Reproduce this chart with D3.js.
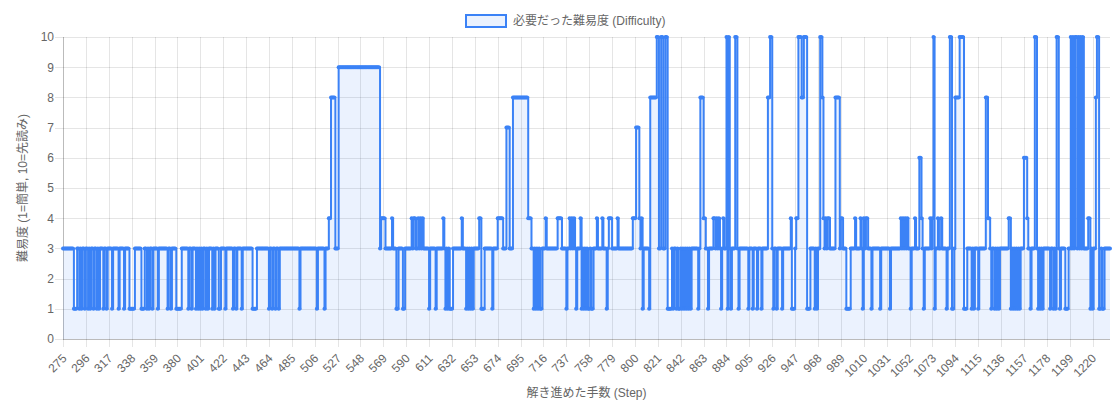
<!DOCTYPE html>
<html>
<head>
<meta charset="utf-8">
<title>必要だった難易度 (Difficulty)</title>
<script src="https://d3js.org/d3.v7.min.js"></script>
<style>
  body { margin: 0; background: #fff; }
  text { font-family: "Liberation Sans", Arial, "Noto Sans CJK JP", sans-serif; }
</style>
</head>
<body>
<script>
  // steps shown on the x axis (one category per step)
  var firstStep = 275
  var lastStep = 1236

  // difficulty: [step where the level starts, level]
  // each level holds until the next entry
  var levelRuns = [
    [275,3],[285,1],[288,3],[290,1],[291,3],[292,1],[293,3],[295,1],[296,3],[298,1],[299,3],[300,1],[301,3],[303,1],[304,3],[306,1],[307,3],[308,1],[309,3],[312,1],[313,3],[315,1],[316,3],[320,1],[321,3],[326,1],[327,3],[331,1],[332,3],[336,1],[341,3],[347,1],[350,3],[352,1],[353,3],[354,1],[355,3],[357,1],[358,3],[362,1],[363,3],
    [371,1],[372,3],[374,1],[375,3],[379,1],[384,3],[390,1],[391,3],[393,1],[394,3],[397,1],[398,3],[399,1],[400,3],[401,1],[402,3],[403,1],[404,3],[406,1],[407,3],[408,1],[409,3],[412,1],[413,3],[414,1],[415,3],[418,1],[420,3],[424,1],[425,3],[431,1],[432,3],[434,1],[435,3],[439,1],[440,3],[449,1],[453,3],[464,1],[465,3],[467,1],[468,3],[470,1],[471,3],[473,1],[474,3],[492,1],[493,3],[508,1],[509,3],
    [515,1],[516,3],[519,4],[521,8],[525,3],[528,9],[566,3],[567,4],[571,3],[577,4],[578,3],[581,1],[583,3],[587,1],[589,3],[595,4],[596,3],[597,4],[599,3],[601,4],[602,3],[603,4],[604,3],[605,4],[606,3],[611,1],[612,3],[617,1],[618,3],[624,4],[625,3],[626,1],[627,3],[628,1],[629,3],[630,1],[633,3],[641,4],[642,3],[645,1],[646,3],[647,1],[648,3],[649,1],[650,3],[651,1],[652,3],
    [657,4],[659,1],[662,3],[669,1],[670,3],[674,4],[679,3],[682,7],[685,3],[688,8],[702,4],[705,3],[707,1],[708,3],[709,1],[710,3],[711,1],[712,3],[713,1],[715,3],[718,4],[719,3],[729,4],[733,3],[737,1],[738,3],[740,4],[741,3],[742,4],[743,3],[744,4],[745,3],[746,1],[747,3],[750,4],[751,1],[752,3],[753,1],[754,3],[755,1],[756,3],[757,1],[759,3],[760,1],[762,3],[765,4],[766,3],[770,4],[771,3],[774,1],[775,3],[776,4],[779,3],[784,4],[785,3],[798,4],
    [801,7],[804,4],[805,3],[806,4],[807,1],[808,3],[813,1],[814,8],[820,10],[822,3],[824,10],[826,3],[828,10],[830,1],[834,3],[835,1],[836,3],[838,1],[839,3],[840,1],[842,3],[843,1],[844,3],[845,1],[846,3],[847,1],[848,3],[849,1],[850,3],[851,1],[852,3],[858,1],[859,3],[860,8],[863,4],[865,3],[867,1],[868,3],[872,4],[874,3],[875,4],[876,3],[877,4],[878,3],[879,1],[880,3],[881,4],[882,3],[884,10],[885,1],[886,10],[887,3],[888,1],[889,3],[892,10],[894,3],[895,1],[896,3],[904,1],[905,3],[908,1],[909,3],[912,1],[913,3],[916,1],[917,3],[922,8],[924,10],[926,3],[927,1],[928,3],[930,1],[931,3],[935,1],[936,3],[943,4],[944,1],[947,3],[948,4],
    [950,10],[953,8],[955,10],[958,1],[961,3],[965,1],[966,3],[967,1],[968,3],[970,10],[972,8],[973,4],[974,3],[975,4],[976,3],[977,4],[979,3],[984,8],[988,3],[989,4],[991,3],[994,1],[998,3],[1002,4],[1003,3],[1007,4],[1008,3],[1009,1],[1010,4],[1011,3],[1012,4],[1014,3],[1017,1],[1018,3],[1025,1],[1026,3],[1034,1],[1035,3],[1044,4],[1045,3],[1046,4],[1047,3],[1048,4],[1049,3],[1050,4],[1051,3],[1053,1],[1054,3],[1057,4],[1058,3],[1061,6],[1063,4],[1064,3],[1065,1],[1066,3],[1071,4],[1072,3],[1073,4],[1074,10],[1075,1],[1076,3],[1078,4],[1079,3],[1081,4],[1082,3],[1086,1],[1087,3],[1089,10],[1091,1],[1093,3],[1094,8],
    [1098,10],[1102,1],[1105,3],[1109,1],[1110,3],[1111,1],[1112,3],[1115,1],[1116,3],[1122,8],[1124,4],[1126,3],[1127,1],[1128,3],[1130,1],[1131,3],[1132,1],[1133,3],[1134,1],[1135,3],[1143,4],[1145,1],[1146,3],[1147,1],[1148,3],[1149,1],[1150,3],[1151,1],[1152,3],[1153,1],[1154,3],[1157,6],[1160,4],[1161,3],[1163,1],[1164,3],[1167,10],[1169,3],[1170,1],[1171,3],[1172,1],[1173,3],[1174,1],[1175,3],[1181,1],[1182,3],[1184,1],[1185,3],[1186,1],[1187,10],[1189,3],[1190,1],[1191,3],[1195,1],[1198,3],[1200,10],[1201,3],[1202,10],[1203,3],[1204,10],[1206,3],[1207,10],[1208,3],[1209,10],[1210,3],[1211,10],[1212,3],[1216,4],[1218,1],[1219,3],[1220,1],[1221,3],[1223,8],[1224,10],[1226,1],[1228,3],[1229,1],[1231,3]
  ]

  var xTickLabels = [275,296,317,338,359,380,401,422,443,464,485,506,527,548,569,590,611,632,653,674,695,716,737,758,779,800,821,842,863,884,905,926,947,968,989,1010,1031,1052,1073,1094,1115,1136,1157,1178,1199,1220]
  var yTickLabels = [0,1,2,3,4,5,6,7,8,9,10]

  var seriesName = "必要だった難易度 (Difficulty)"
  var yTitle = "難易度 (1=簡単, 10=先読み)"
  var xTitle = "解き進めた手数 (Step)"

  var steps = d3.range(firstStep, lastStep + 1)
  var runAt = d3.bisector(r => r[0]).right
  var data = steps.map(s => ({ step: s, v: levelRuns[runAt(levelRuns, s) - 1][1] }))

  var W = 1120, H = 404
  var plotL = 63, plotR = 1110, plotT = 37, plotB = 339
  var lineColor = "#3b82f6"
  var fillColor = "rgba(59,130,246,0.1)"
  var gridColor = "rgba(0,0,0,0.1)"
  var textColor = "#666"

  var scaleX = d3.scalePoint().domain(steps).range([plotL, plotR])
  var scaleY = d3.scaleLinear().domain([0, 10]).range([plotB, plotT])

  var svg = d3.select("body").append("svg").attr("width", W).attr("height", H)

  // grid
  svg.append("g").selectAll("line").data(yTickLabels).enter().append("line")
     .attr("x1", plotL - 8).attr("x2", plotR)
     .attr("y1", d => Math.round(scaleY(d)) + 0.5).attr("y2", d => Math.round(scaleY(d)) + 0.5)
     .attr("stroke", gridColor)
  svg.append("g").selectAll("line").data(xTickLabels).enter().append("line")
     .attr("x1", d => Math.round(scaleX(d)) + 0.5).attr("x2", d => Math.round(scaleX(d)) + 0.5)
     .attr("y1", plotT).attr("y2", plotB + 8)
     .attr("stroke", gridColor)
  svg.append("line").attr("x1", plotL + 0.5).attr("x2", plotL + 0.5).attr("y1", plotT).attr("y2", plotB + 0.5).attr("stroke", "rgba(0,0,0,0.18)")
  svg.append("line").attr("x1", plotL).attr("x2", plotR).attr("y1", plotB + 0.5).attr("y2", plotB + 0.5).attr("stroke", "rgba(0,0,0,0.18)")

  // axes (labels only, grid drawn above)
  var axisY = d3.axisLeft(scaleY).tickValues(yTickLabels).tickSize(0).tickPadding(9)
  var gy = svg.append("g").attr("transform", `translate(${plotL},0)`).call(axisY)
  gy.select(".domain").remove()
  gy.selectAll("text").attr("fill", textColor).style("font-size", "12px")

  var axisX = d3.axisBottom(scaleX).tickValues(xTickLabels).tickSize(0)
  var gx = svg.append("g").attr("transform", `translate(0,${plotB})`).call(axisX)
  gx.select(".domain").remove()
  gx.selectAll("text")
    .attr("fill", textColor).style("font-size", "12px")
    .attr("text-anchor", "end")
    .attr("dy", "0.35em").attr("y", 0)
    .attr("transform", "translate(1,17) rotate(-45)")

  // area + stepped line
  var area = d3.area().curve(d3.curveStepAfter)
    .x(d => scaleX(d.step)).y0(scaleY(0)).y1(d => scaleY(d.v))
  var line = d3.line().curve(d3.curveStepAfter)
    .x(d => scaleX(d.step)).y(d => scaleY(d.v))

  svg.append("path").datum(data).attr("d", area).attr("fill", fillColor)
  svg.append("path").datum(data).attr("d", line)
     .attr("fill", "none").attr("stroke", lineColor).attr("stroke-width", 2)
  svg.append("g").selectAll("circle").data(data).enter().append("circle")
     .attr("cx", d => scaleX(d.step)).attr("cy", d => scaleY(d.v)).attr("r", 2)
     .attr("fill", lineColor)

  // titles
  svg.append("text").attr("transform", `translate(27,${(plotT + plotB) / 2}) rotate(-90)`)
     .attr("text-anchor", "middle").attr("fill", textColor).style("font-size", "12px")
     .text(yTitle)
  svg.append("text").attr("x", (plotL + plotR) / 2).attr("y", 397)
     .attr("text-anchor", "middle").attr("fill", textColor).style("font-size", "12px")
     .text(xTitle)

  // legend
  var lg = svg.append("g")
  lg.append("rect").attr("x", 466).attr("y", 15).attr("width", 40).attr("height", 12)
    .attr("fill", fillColor).attr("stroke", lineColor).attr("stroke-width", 2)
  lg.append("text").attr("x", 513).attr("y", 21).attr("dy", "0.35em")
    .attr("fill", textColor).style("font-size", "12px").text(seriesName)
</script>
</body>
</html>
